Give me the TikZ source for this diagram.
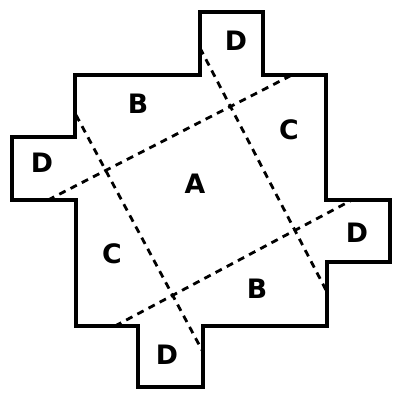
\documentclass[tikz,border=0pt]{standalone}
\usepackage{fontspec}
\setmainfont{DejaVu Sans}

\tikzset{
  outline/.style = {line width=2.3pt, line join=miter},
  cut/.style     = {line width=2pt, dash pattern=on 5pt off 4pt},
  piece/.style   = {font=\fontsize{19}{19}\selectfont\bfseries}
}

\begin{document}
\begin{tikzpicture}[x=0.025cm, y=-0.025cm]
    \useasboundingbox (0,0) rectangle (400,400);

    % Outline
    \draw[outline] (12,137) -- (75,137) -- (75,75) -- (200,75) -- (200,12)
        -- (263,12) -- (263,75) -- (326,75) -- (326,200) -- (390,200)
        -- (390,262) -- (327,262) -- (327,326) -- (203,326) -- (203,387)
        -- (138,387) -- (138,326) -- (76,326) -- (76,200) -- (12,200) -- cycle;

    % Cut ends
    \coordinate (c1a) at (76,115);
    \coordinate (c1b) at (203,352);
    \coordinate (c2a) at (200,48);
    \coordinate (c2b) at (327,292);
    \coordinate (c3a) at (48,200);
    \coordinate (c3b) at (292,75);
    \coordinate (c4a) at (115,326);
    \coordinate (c4b) at (352,200);

    % Cuts
    \draw[cut] (c1a) -- (c1b);
    \draw[cut] (c2a) -- (c2b);
    \draw[cut] (c3a) -- (c3b);
    \draw[cut] (c4a) -- (c4b);

    % Pieces
    \node[piece] (A)  at (195,184) {A};
    \node[piece] (B1) at (138,104) {B};
    \node[piece] (B2) at (257,289) {B};
    \node[piece] (C1) at (289,130) {C};
    \node[piece] (C2) at (112,254) {C};
    \node[piece] (D1) at (236,41)  {D};
    \node[piece] (D2) at (42,163)  {D};
    \node[piece] (D3) at (357,233) {D};
    \node[piece] (D4) at (167,355) {D};
\end{tikzpicture}
\end{document}
